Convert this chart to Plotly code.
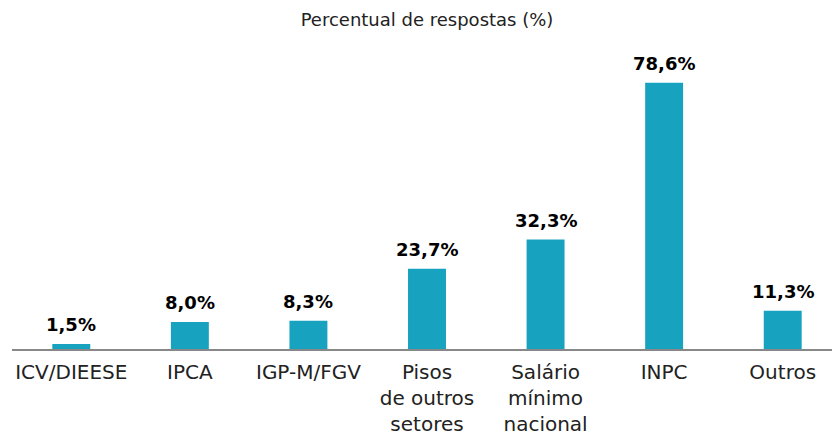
import plotly.graph_objects as go

categories = ["ICV/DIEESE", "IPCA", "IGP-M/FGV", "Pisos<br>de outros<br>setores",
              "Salário<br>mínimo<br>nacional", "INPC", "Outros"]
values = [1.5, 8.0, 8.3, 23.7, 32.3, 78.6, 11.3]
labels = ["1,5%", "8,0%", "8,3%", "23,7%", "32,3%", "78,6%", "11,3%"]

fig = go.Figure(go.Bar(
    x=categories, y=values,
    marker=dict(color="#17A2BF", line=dict(width=0)),
    cliponaxis=False, hoverinfo="x+y",
))
for c, v, t in zip(categories, values, labels):
    fig.add_annotation(x=c, y=v, text=t, showarrow=False, yanchor="bottom",
                       yshift=7, font=dict(family="DejaVu Sans", size=18,
                                           color="#000000", weight="bold"))
fig.update_layout(
    width=842, height=438,
    margin=dict(l=12, r=0, t=44, b=89, autoexpand=False),
    plot_bgcolor="white", paper_bgcolor="white",
    bargap=0.68,
    showlegend=False,
    title=dict(text="Percentual de respostas (%)", x=0.5, xref="paper", xanchor="center",
               y=0.954, yanchor="middle",
               font=dict(family="DejaVu Sans", size=18, color="#222222")),
    font=dict(family="DejaVu Sans"),
)
fig.update_xaxes(showline=True, linecolor="#888888", linewidth=1.5, ticks="",
                 tickfont=dict(size=20, color="#222222"), showgrid=False,
                 automargin=False, ticklabelstandoff=4)
fig.update_yaxes(range=[0, 90], visible=False, showgrid=False, automargin=False)
fig.write_html("out.html", config={"displayModeBar": False},
               post_script="document.body.style.margin='0';document.body.style.overflow='hidden';document.documentElement.style.overflow='hidden';")
